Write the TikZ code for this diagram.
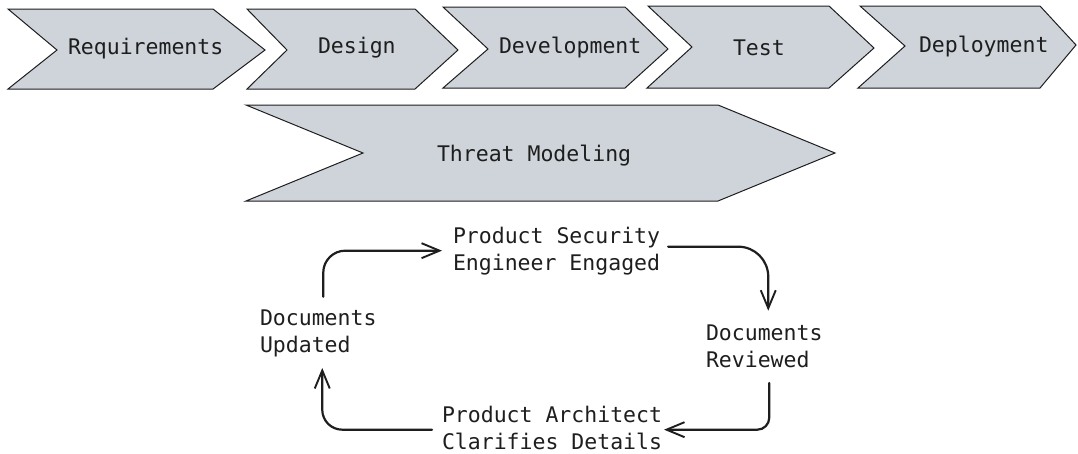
\documentclass[tikz,border=0pt]{standalone}
\usepackage{fontspec}
\newfontfamily\diagmono{DejaVu Sans Mono}
\usetikzlibrary{arrows.meta}
\definecolor{chevfill}{HTML}{CED4DA}
\definecolor{ink}{HTML}{1E1E1E}
\tikzset{
  chev/.style={draw=ink, fill=chevfill, line width=1pt, line join=miter},
  lbl/.style={inner sep=0pt, outer sep=0pt, text=ink, font=\diagmono\fontsize{21.5}{27}\selectfont},
  step text/.style={lbl, align=left, anchor=north west, execute at begin node={\vphantom{dg}}},
  loop arrow/.style={draw=ink, line width=2.2pt, line cap=round, line join=round,
    -{Straight Barb[length=18pt,width=15pt,line width=1.9pt]}},
}
\begin{document}
\begin{tikzpicture}[x=1pt,y=-1pt]
\useasboundingbox (0,0) rectangle (1078,453);
% top row chevrons
\draw[chev] (8,9) -- (213,9) -- (265,50) -- (213,89) -- (8,89) -- (57,50) -- cycle;
\draw[chev] (247,9) -- (415,9) -- (458,50) -- (415,89) -- (247,89) -- (287,50) -- cycle;
\draw[chev] (443,7) -- (625,7) -- (668,49) -- (625,88) -- (443,88) -- (488,49) -- cycle;
\draw[chev] (648,6) -- (829,6) -- (874,48) -- (829,88) -- (647,88) -- (692,47) -- cycle;
\draw[chev] (860,6) -- (1040,6) -- (1076,45) -- (1040,88) -- (858,88) -- (905,46) -- cycle;
\node[lbl, anchor=base west] (req) at (68,54) {Requirements};
\node[lbl, anchor=base west] (des) at (318,53) {Design};
\node[lbl, anchor=base west] (dev) at (499,53) {Development};
\node[lbl, anchor=base west] (tst) at (733,55) {Test};
\node[lbl, anchor=base west] (dep) at (919,52) {Deployment};
% threat modeling
\draw[chev] (246,105) -- (718,105) -- (835,153) -- (718,201) -- (246,201) -- (363,153) -- cycle;
\node[lbl, anchor=base west] (tm) at (437,161) {Threat Modeling};
% loop
\node[step text] (pse) at (453,226.7) {Product Security\\Engineer Engaged};
\node[step text] (du)  at (260,309.7) {Documents\\Updated};
\node[step text] (dr)  at (706,324.7) {Documents\\Reviewed};
\node[step text] (pac) at (442,405.7) {Product Architect\\Clarifies Details};
\draw[loop arrow, rounded corners=22pt] ([xshift=5pt,yshift=13pt]du.north) |- ([xshift=-11pt]pse.west);
\draw[loop arrow, rounded corners=30pt] ([xshift=8pt,yshift=4pt]pse.east) -| ([xshift=4pt,yshift=14pt]dr.north);
\draw[loop arrow, rounded corners=12pt] ([xshift=5pt,yshift=-11pt]dr.south) |- ([xshift=2pt]pac.east);
\draw[loop arrow, rounded corners=20pt] ([xshift=-10pt]pac.west) -| ([xshift=4pt,yshift=-11pt]du.south);
\end{tikzpicture}
\end{document}
